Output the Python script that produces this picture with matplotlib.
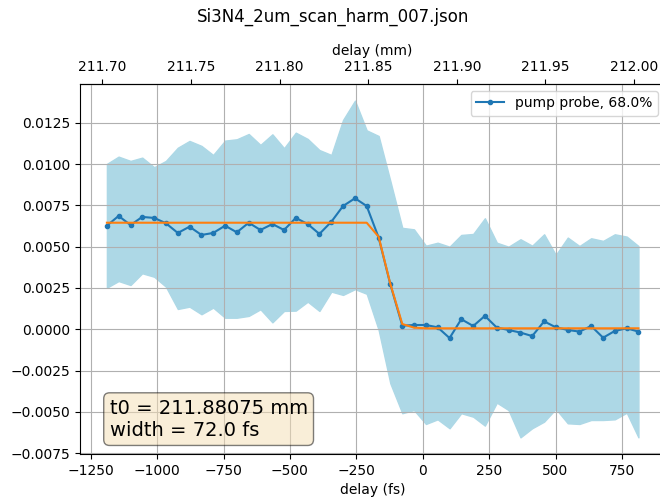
import matplotlib
matplotlib.use('Agg')
import matplotlib.pyplot as plt

# scan file and fit result
fname = 'Si3N4_2um_scan_harm_007.json'
t0_mm = 211.88075
width_fs = 72.0
fs_per_mm = 6671.28  # 2/c, round trip

# delay axis (fs)
delay_fs = [-1189, -1145, -1100, -1056, -1011, -967, -922, -878, -833, -789,
            -744, -700, -655, -611, -566, -522, -478, -433, -389, -344,
            -300, -255, -211, -166, -122, -77, -33, 12, 56, 101,
            145, 190, 234, 279, 323, 368, 412, 457, 501, 546,
            590, 634, 679, 723, 768, 812]

# pump probe signal
signal = [0.00627, 0.00686, 0.00631, 0.00680, 0.00674, 0.00642, 0.00583, 0.00621, 0.00571, 0.00583,
          0.00627, 0.00587, 0.00645, 0.00601, 0.00637, 0.00601, 0.00674, 0.00637, 0.00577, 0.00651,
          0.00746, 0.00793, 0.00746, 0.00555, 0.00272, 0.00022, 0.00026, 0.00026, 0.00012, -0.00053,
          0.00061, 0.00020, 0.00081, 0.00010, -0.00004, -0.00020, -0.00041, 0.00048, 0.00012, -0.00004,
          -0.00014, 0.00020, -0.00051, -0.00010, 0.00006, -0.00014]

# 68% band
upper = [0.01001, 0.01045, 0.01019, 0.01039, 0.00981, 0.01019, 0.01099, 0.01140, 0.01110, 0.01055,
         0.01142, 0.01150, 0.01182, 0.01116, 0.01180, 0.01096, 0.01190, 0.01152, 0.01085, 0.01055,
         0.01267, 0.01384, 0.01204, 0.01170, 0.00898, 0.00614, 0.00605, 0.00506, 0.00524, 0.00500,
         0.00571, 0.00577, 0.00672, 0.00524, 0.00500, 0.00545, 0.00506, 0.00575, 0.00450, 0.00555,
         0.00504, 0.00551, 0.00535, 0.00575, 0.00561, 0.00504]
lower = [0.00252, 0.00292, 0.00268, 0.00339, 0.00318, 0.00258, 0.00123, 0.00137, 0.00091, 0.00131,
         0.00070, 0.00070, 0.00081, 0.00121, 0.00042, 0.00111, 0.00113, 0.00167, 0.00111, 0.00228,
         0.00208, 0.00243, 0.00215, -0.00004, -0.00327, -0.00508, -0.00489, -0.00573, -0.00545, -0.00599,
         -0.00508, -0.00529, -0.00583, -0.00444, -0.00489, -0.00654, -0.00599, -0.00559, -0.00482, -0.00569,
         -0.00573, -0.00549, -0.00549, -0.00545, -0.00505, -0.00654]

# step fit
fit = [0.00645] * 23 + [0.0056, 0.00275, 0.00032, 0.0001] + [0.00006] * 19


def fs2mm(x):
    return t0_mm + x / fs_per_mm


def mm2fs(x):
    return (x - t0_mm) * fs_per_mm


fig = plt.figure(figsize=(6.6, 4.99), dpi=100)
ax = fig.add_axes([0.1217, 0.0898, 0.8859, 0.7423])

ax.fill_between(delay_fs, lower, upper, color='lightblue')
ax.plot(delay_fs, signal, '.-', label='pump probe, 68.0%')
ax.plot(delay_fs, fit)
ax.grid(True)
ax.set_xlabel('delay (fs)')
ax.legend(loc='upper right')

secax = ax.secondary_xaxis('top', functions=(fs2mm, mm2fs))
secax.set_xlabel('delay (mm)')

textstr = 't0 = %.5f mm\nwidth = %.1f fs' % (t0_mm, width_fs)
props = dict(boxstyle='round', facecolor='wheat', alpha=0.5)
ax.text(0.05, 0.15, textstr, transform=ax.transAxes, fontsize=14,
        verticalalignment='top', bbox=props)

fig.suptitle(fname, x=0.505, y=0.985)

fig.savefig('out.png', dpi=100)
